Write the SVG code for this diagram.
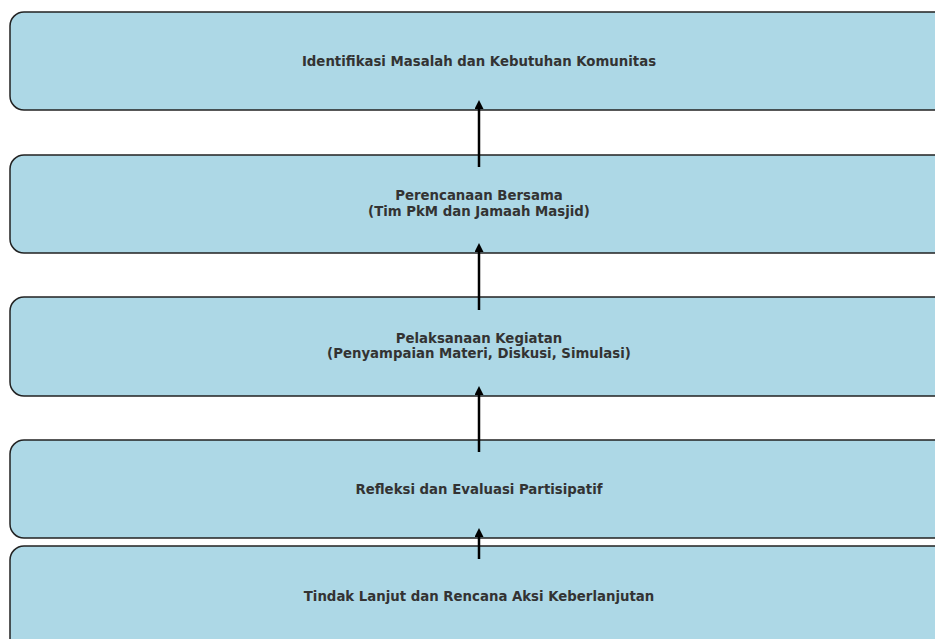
<svg xmlns="http://www.w3.org/2000/svg" width="935" height="639" viewBox="0 0 935 639">
<defs>
<marker id="ah" markerWidth="9" markerHeight="9" refX="4" refY="4.5" orient="auto" markerUnits="userSpaceOnUse" viewBox="0 0 9 9">
<path d="M0,0 L9,4.5 L0,9 Z" fill="#000"/>
</marker>
</defs>
<style>
.box{fill:#add8e6;stroke:#222;stroke-width:1.5}
.t{font-family:"DejaVu Sans",sans-serif;font-weight:bold;font-size:13.3px;fill:#333;text-anchor:middle}
.c{stroke:#000;stroke-width:2.5;fill:none}
</style>
<rect width="935" height="639" fill="#fff"/>
<g id="n1"><rect class="box" x="10" y="12" width="940" height="98" rx="14"/><text class="t" x="479" y="66">Identifikasi Masalah dan Kebutuhan Komunitas</text></g>
<g id="n2"><rect class="box" x="10" y="155" width="940" height="98" rx="14"/><text class="t" x="479" y="200">Perencanaan Bersama</text><text class="t" x="479" y="216">(Tim PkM dan Jamaah Masjid)</text></g>
<g id="n3"><rect class="box" x="10" y="297" width="940" height="99" rx="14"/><text class="t" x="479" y="343">Pelaksanaan Kegiatan</text><text class="t" x="479" y="358">(Penyampaian Materi, Diskusi, Simulasi)</text></g>
<g id="n4"><rect class="box" x="10" y="440" width="940" height="98" rx="14"/><text class="t" x="479" y="494">Refleksi dan Evaluasi Partisipatif</text></g>
<g id="n5"><rect class="box" x="10" y="546" width="940" height="110" rx="14"/><text class="t" x="479" y="601">Tindak Lanjut dan Rencana Aksi Keberlanjutan</text></g>
<g id="connectors">
<line class="c" x1="479" y1="167" x2="479" y2="105" marker-end="url(#ah)"/>
<line class="c" x1="479" y1="310" x2="479" y2="248" marker-end="url(#ah)"/>
<line class="c" x1="479" y1="452" x2="479" y2="391" marker-end="url(#ah)"/>
<line class="c" x1="479" y1="559" x2="479" y2="533" marker-end="url(#ah)"/>
</g>
</svg>
